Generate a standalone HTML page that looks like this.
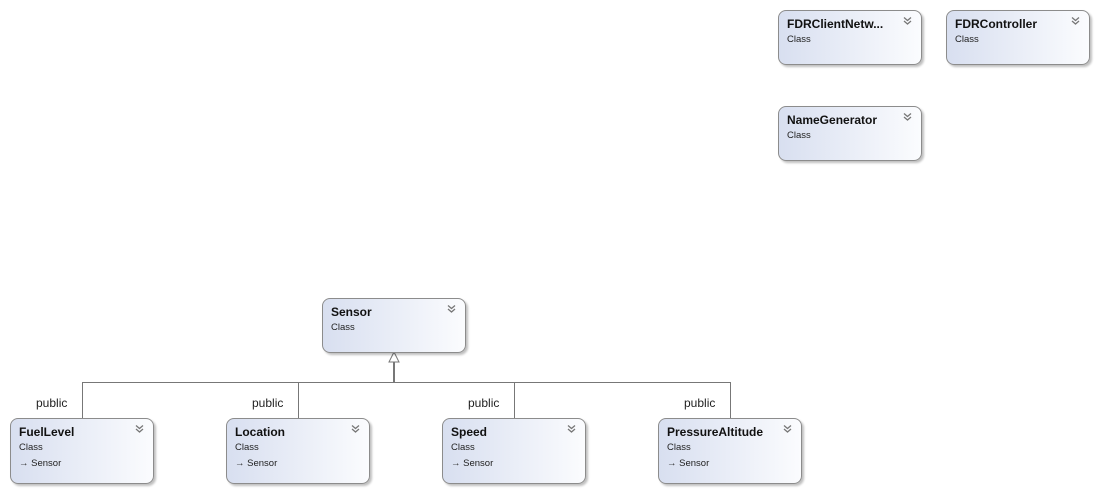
<!DOCTYPE html>
<html><head><style>
body{margin:0;width:1099px;height:493px;background:#fff;position:relative;overflow:hidden;font-family:"Liberation Sans",sans-serif}
.b{position:absolute;width:142px;border:1px solid #8c8c8c;border-radius:8px;background:linear-gradient(to right,#d8dff0,#fbfcfe);box-shadow:2px 2px 2px rgba(0,0,0,0.25)}
.t{position:absolute;left:8px;top:6px;font-weight:bold;font-size:12px;color:#111}
.c{position:absolute;left:8px;top:23px;font-size:9.5px;color:#222}
.s{position:absolute;left:8px;top:39px;font-size:9.5px;color:#222}
.ch{position:absolute;right:9px;top:5px;width:9px;height:9px}
.p{position:absolute;font-size:12px;color:#222}
</style></head><body>
<svg width="0" height="0" style="position:absolute"><defs><symbol id="cv" viewBox="0 0 9 9"><path d="M1 1.5 L4.5 4.5 L8 1.5 M1 5 L4.5 8 L8 5" stroke="#777" stroke-width="1.3" fill="none"/></symbol></defs></svg>
<svg width="1099" height="493" style="position:absolute;left:0;top:0">
<g stroke="#777" fill="none" stroke-width="1">
<line x1="82" y1="382.5" x2="730" y2="382.5"/>
<line x1="82.5" y1="382" x2="82.5" y2="418"/>
<line x1="298.5" y1="382" x2="298.5" y2="418"/>
<line x1="514.5" y1="382" x2="514.5" y2="418"/>
<line x1="730.5" y1="382" x2="730.5" y2="418"/>
<line x1="394" y1="362" x2="394" y2="382" stroke-width="2"/>
<polygon points="394,352 389,362 399,362" fill="#fff"/>
</g></svg>
<div class="b" style="left:778px;top:10px;height:53px"><div class="t">FDRClientNetw...</div><div class="c">Class</div><svg class="ch"><use href="#cv"/></svg></div>
<div class="b" style="left:946px;top:10px;height:53px"><div class="t">FDRController</div><div class="c">Class</div><svg class="ch"><use href="#cv"/></svg></div>
<div class="b" style="left:778px;top:106px;height:53px"><div class="t">NameGenerator</div><div class="c">Class</div><svg class="ch"><use href="#cv"/></svg></div>
<div class="b" style="left:322px;top:298px;height:53px"><div class="t">Sensor</div><div class="c">Class</div><svg class="ch"><use href="#cv"/></svg></div>
<div class="b" style="left:10px;top:418px;height:64px"><div class="t">FuelLevel</div><div class="c">Class</div><div class="s">→ Sensor</div><svg class="ch"><use href="#cv"/></svg></div>
<div class="b" style="left:226px;top:418px;height:64px"><div class="t">Location</div><div class="c">Class</div><div class="s">→ Sensor</div><svg class="ch"><use href="#cv"/></svg></div>
<div class="b" style="left:442px;top:418px;height:64px"><div class="t">Speed</div><div class="c">Class</div><div class="s">→ Sensor</div><svg class="ch"><use href="#cv"/></svg></div>
<div class="b" style="left:658px;top:418px;height:64px"><div class="t">PressureAltitude</div><div class="c">Class</div><div class="s">→ Sensor</div><svg class="ch"><use href="#cv"/></svg></div>
<div class="p" style="left:36px;top:396px">public</div>
<div class="p" style="left:252px;top:396px">public</div>
<div class="p" style="left:468px;top:396px">public</div>
<div class="p" style="left:684px;top:396px">public</div>
</body></html>
